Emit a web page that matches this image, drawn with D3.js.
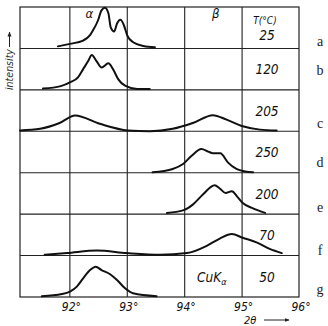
<!DOCTYPE html>
<html><head><meta charset="utf-8">
<script src="https://cdn.jsdelivr.net/npm/d3@7"></script>
<style>body{margin:0;background:#fff}svg{display:block}</style>
</head><body>
<script>
const rowLabels = ["a","b","c","d","e","f","g"];
const temperatures = ["25","120","205","250","200","70","50"];
const xTicks = [92,93,94,95,96];
const xTickLabels = ["92°","93°","94°","95°","96°"];
const phaseLabels = ["α","β"];
const phasePos = [92.35, 94.55];

const thetaA = [91.80,92.01,92.24,92.36,92.41,92.50,92.56,92.62,92.68,92.72,92.78,92.83,92.89,92.95,93.01,93.11,93.29,93.49];
const intA   = [0.05,0.11,0.19,0.32,0.43,0.68,0.92,0.98,0.85,0.51,0.41,0.60,0.69,0.56,0.31,0.15,0.06,0.03];
const thetaB = [91.54,91.85,92.01,92.15,92.24,92.33,92.39,92.47,92.56,92.68,92.76,92.85,92.97,93.18,93.40];
const intB   = [0.03,0.09,0.18,0.30,0.50,0.70,0.84,0.70,0.54,0.64,0.50,0.26,0.10,0.02,0.02];
const thetaC = [91.14,91.49,91.83,92.10,92.53,93.02,93.40,93.80,94.15,94.50,94.74,95.02,95.32,95.61];
const intC   = [0.02,0.06,0.20,0.38,0.18,0.02,0.00,0.06,0.20,0.39,0.28,0.12,0.04,0.02];
const thetaD = [93.45,93.80,93.98,94.13,94.30,94.42,94.50,94.63,94.76,94.91,95.06,95.20];
const intD   = [0.01,0.09,0.21,0.41,0.57,0.51,0.47,0.47,0.25,0.09,0.03,0.01];
const thetaE = [93.70,93.98,94.15,94.33,94.53,94.62,94.72,94.83,94.92,95.02,95.20,95.41];
const intE   = [0.03,0.09,0.23,0.48,0.70,0.62,0.51,0.55,0.43,0.27,0.14,0.03];
const thetaF = [91.57,91.96,92.48,93.00,93.58,94.05,94.40,94.62,94.83,95.02,95.26,95.49,95.70];
const intF   = [0.02,0.06,0.12,0.06,0.02,0.06,0.24,0.41,0.52,0.43,0.32,0.16,0.06];
const thetaG = [91.52,91.87,92.01,92.13,92.24,92.36,92.46,92.56,92.71,92.83,92.97,93.11,93.52];
const intG   = [0.02,0.07,0.13,0.25,0.45,0.65,0.73,0.65,0.55,0.41,0.21,0.09,0.02];

const thetas = [thetaA,thetaB,thetaC,thetaD,thetaE,thetaF,thetaG];
const ints = [intA,intB,intC,intD,intE,intF,intG];

const W = 328, H = 326;
const svg = d3.select("body").append("svg").attr("width", W).attr("height", H);

const x = d3.scaleLinear().domain([91.14, 96]).range([20, 299]);
const row = d3.scaleBand().domain(rowLabels).range([7, 297]).padding(0);
const yI = d3.scaleLinear().domain([0, 1]).range([0, -row.bandwidth()]);

const hand = "'Liberation Sans Narrow','DejaVu Sans Condensed',sans-serif";
const gridColor = "#222";

// vertical grid lines
svg.append("g").attr("transform", "translate(0,297)")
  .call(d3.axisBottom(x).tickValues([92,93,94,95]).tickSize(-290).tickFormat(""))
  .call(g => g.select(".domain").remove())
  .call(g => g.selectAll("line").attr("stroke", gridColor).attr("stroke-width", 1.1));

// horizontal row lines
svg.append("g").selectAll("line").data(rowLabels.slice(1)).join("line")
  .attr("x1", 20).attr("x2", 299)
  .attr("y1", d => row(d)).attr("y2", d => row(d))
  .attr("stroke", gridColor).attr("stroke-width", 1.1);

// frame
svg.append("rect").attr("x", 20).attr("y", 7).attr("width", 279).attr("height", 290)
  .attr("fill", "none").attr("stroke", gridColor).attr("stroke-width", 1.2);

// tick labels
svg.append("g").selectAll("text").data(xTicks).join("text")
  .attr("x", d => x(d) + 2).attr("y", 311)
  .attr("text-anchor", "middle")
  .attr("font-family", hand).attr("font-style", "italic").attr("font-size", 12)
  .attr("fill", "#111")
  .text((d, i) => xTickLabels[i]);

// curves
const line = d3.line().x(d => d[0]).y(d => d[1]).curve(d3.curveMonotoneX);
rowLabels.forEach((r, i) => {
  const base = row(r) + row.bandwidth();
  const pts = thetas[i].map((t, j) => [x(t), base + yI(ints[i][j])]);
  svg.append("path").attr("d", line(pts))
    .attr("fill", "none").attr("stroke", "#111").attr("stroke-width", 2)
    .attr("stroke-linejoin", "round").attr("stroke-linecap", "round");
});

// temperatures
const tempG = svg.append("g").attr("font-family", hand).attr("font-style", "italic")
  .attr("font-size", 13.5).attr("fill", "#111").attr("text-anchor", "middle");
tempG.append("text").attr("x", 265).attr("y", row("a") + 17).attr("font-size", 10).text("T(°C)");
tempG.selectAll("text.t").data(rowLabels).join("text").attr("class", "t")
  .attr("x", 267)
  .attr("y", (d, i) => row(d) + (i === 0 ? 33 : 26))
  .text((d, i) => temperatures[i]);

// CuKα
const cu = svg.append("text").attr("x", 197).attr("y", row("g") + 26)
  .attr("font-family", hand).attr("font-style", "italic").attr("font-size", 13.5).attr("fill", "#111");
cu.append("tspan").text("CuK");
cu.append("tspan").attr("font-size", 9).attr("dy", 3).text("α");

// phase labels
svg.append("g").selectAll("text").data(phaseLabels).join("text")
  .attr("x", (d, i) => x(phasePos[i])).attr("y", 18)
  .attr("text-anchor", "middle")
  .attr("font-family", hand).attr("font-style", "italic").attr("font-size", 13).attr("fill", "#111")
  .text(d => d);

// row letters
const letterOffsets = [39, 27, 38, 36, 39, 41, 38];
svg.append("g").selectAll("text").data(rowLabels).join("text")
  .attr("x", 320).attr("y", (d, i) => row(d) + letterOffsets[i])
  .attr("text-anchor", "middle")
  .attr("font-family", "'Liberation Serif','DejaVu Serif',serif").attr("font-size", 14).attr("fill", "#222")
  .text(d => d);

// axis titles
svg.append("defs").append("marker").attr("id", "arr").attr("viewBox", "0 0 10 10")
  .attr("refX", 9).attr("refY", 5).attr("markerWidth", 5).attr("markerHeight", 5)
  .attr("orient", "auto").append("path").attr("d", "M0,1 L10,5 L0,9 Z").attr("fill", "#222");

svg.append("text").attr("transform", "translate(13,90) rotate(-90)")
  .attr("font-family", hand).attr("font-style", "italic").attr("font-size", 10.5).attr("fill", "#333")
  .text("intensity");
svg.append("line").attr("x1", 9.5).attr("x2", 9.5).attr("y1", 47).attr("y2", 32)
  .attr("stroke", "#222").attr("stroke-width", 1).attr("marker-end", "url(#arr)");

svg.append("text").attr("x", 244).attr("y", 323.5)
  .attr("font-family", hand).attr("font-style", "italic").attr("font-size", 11).attr("fill", "#111")
  .text("2θ");
svg.append("line").attr("x1", 264).attr("x2", 289).attr("y1", 320).attr("y2", 320)
  .attr("stroke", "#222").attr("stroke-width", 1).attr("marker-end", "url(#arr)");
</script>
</body></html>
